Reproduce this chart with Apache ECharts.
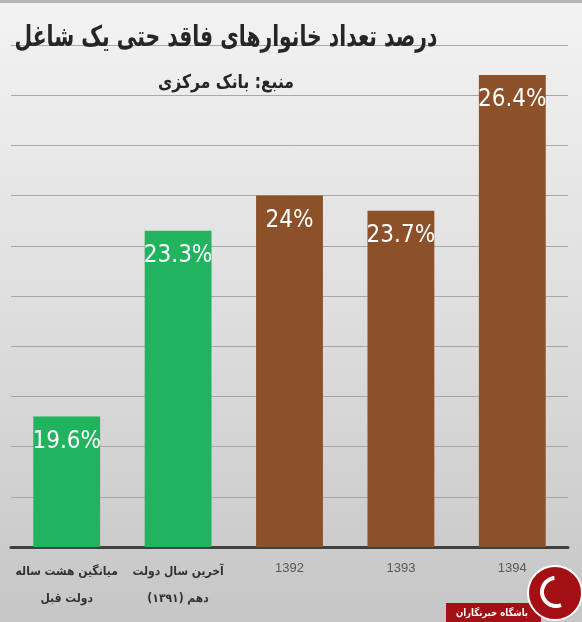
<!DOCTYPE html>
<html>
<head>
<meta charset="utf-8">
<script src="https://cdn.jsdelivr.net/npm/echarts@6/dist/echarts.min.js"></script>
<style>html,body{margin:0;padding:0;}#c{width:582px;height:622px;}</style>
</head>
<body>
<div id="c" dir="rtl"></div>
<script>
const titleText = 'درصد تعداد خانوارهای فاقد حتی یک شاغل';
const subtitleText = 'منبع: بانک مرکزی';
const categories = ['میانگین هشت ساله\nدولت قبل', 'آخرین سال دولت\nدهم (۱۳۹۱)', '1392', '1393', '1394'];
const values = [19.6, 23.3, 24, 23.7, 26.4];
const groups = ['prev', 'prev', 'cur', 'cur', 'cur'];
const logoText = 'باشگاه خبرنگاران';

const groupColor = { prev: '#22b35f', cur: '#8c5129' };

const chart = echarts.init(document.getElementById('c'), null, { renderer: 'canvas' });
chart.setOption({
  backgroundColor: {
    type: 'linear', x: 0, y: 0, x2: 0, y2: 1,
    colorStops: [{ offset: 0, color: '#f3f3f3' }, { offset: 0.5, color: '#dedede' }, { offset: 1, color: '#c6c6c6' }]
  },
  animation: false,
  grid: { left: 11, right: 14, top: 45, bottom: 75 },
  xAxis: {
    type: 'category',
    data: categories,
    axisTick: { show: false },
    axisLine: { lineStyle: { color: '#404040', width: 3 } },
    axisLabel: {
      interval: 0,
      margin: 11,
      formatter: function (v) {
        if (/^\d+$/.test(v)) return '{n|' + v + '}';
        return v.split('\n').map(function (s) { return '{p|' + s + '}'; }).join('\n');
      },
      rich: {
        n: { fontFamily: 'Liberation Sans', fontSize: 13, color: '#595959', lineHeight: 20 },
        p: { fontFamily: '"DejaVu Sans Condensed", "DejaVu Sans"', fontWeight: 'bold', fontSize: 12, color: '#333333', lineHeight: 27 }
      }
    }
  },
  yAxis: {
    type: 'value',
    min: 17, max: 27, interval: 1,
    axisLabel: { show: false },
    axisLine: { show: false },
    axisTick: { show: false },
    splitLine: { lineStyle: { color: '#a8a8a8', width: 1 } }
  },
  series: [{
    type: 'bar',
    data: values.map(function (v, i) { return { value: v, itemStyle: { color: groupColor[groups[i]] } }; }),
    barCategoryGap: '40%',
    label: {
      show: true,
      position: 'insideTop',
      distance: 13,
      formatter: '{c}%',
      color: '#ffffff',
      fontSize: 24,
      fontFamily: '"Liberation Sans Narrow", "DejaVu Sans Condensed", sans-serif'
    }
  }],
  graphic: [
    { type: 'rect', shape: { x: 0, y: 0, width: 582, height: 3 }, style: { fill: '#b5b5b5' }, z: 10 },
    { type: 'text', x: 226, y: 38, scaleX: 0.70, z: 10, style: { text: titleText, fill: '#262626', font: 'bold 29px "DejaVu Sans"', textAlign: 'center', textVerticalAlign: 'middle' } },
    { type: 'text', x: 226, y: 83, scaleX: 0.82, z: 10, style: { text: subtitleText, fill: '#262626', font: 'bold 19px "DejaVu Sans"', textAlign: 'center', textVerticalAlign: 'middle' } },
    { type: 'rect', shape: { x: 446, y: 603, width: 95, height: 19 }, style: { fill: '#a30f12' }, z: 10 },
    { type: 'text', x: 492, y: 613, scaleX: 0.85, z: 11, style: { text: logoText, fill: '#ffffff', font: 'bold 10px "DejaVu Sans"', textAlign: 'center', textVerticalAlign: 'middle' } },
    { type: 'circle', shape: { cx: 555, cy: 593, r: 27 }, style: { fill: '#a30f12', stroke: '#ffffff', lineWidth: 2 }, z: 11 },
    { type: 'arc', shape: { cx: 556, cy: 592, r: 14, startAngle: 1.2, endAngle: 4.6 }, style: { stroke: '#ffffff', lineWidth: 4, fill: null }, z: 12 }
  ]
});
</script>
</body>
</html>
